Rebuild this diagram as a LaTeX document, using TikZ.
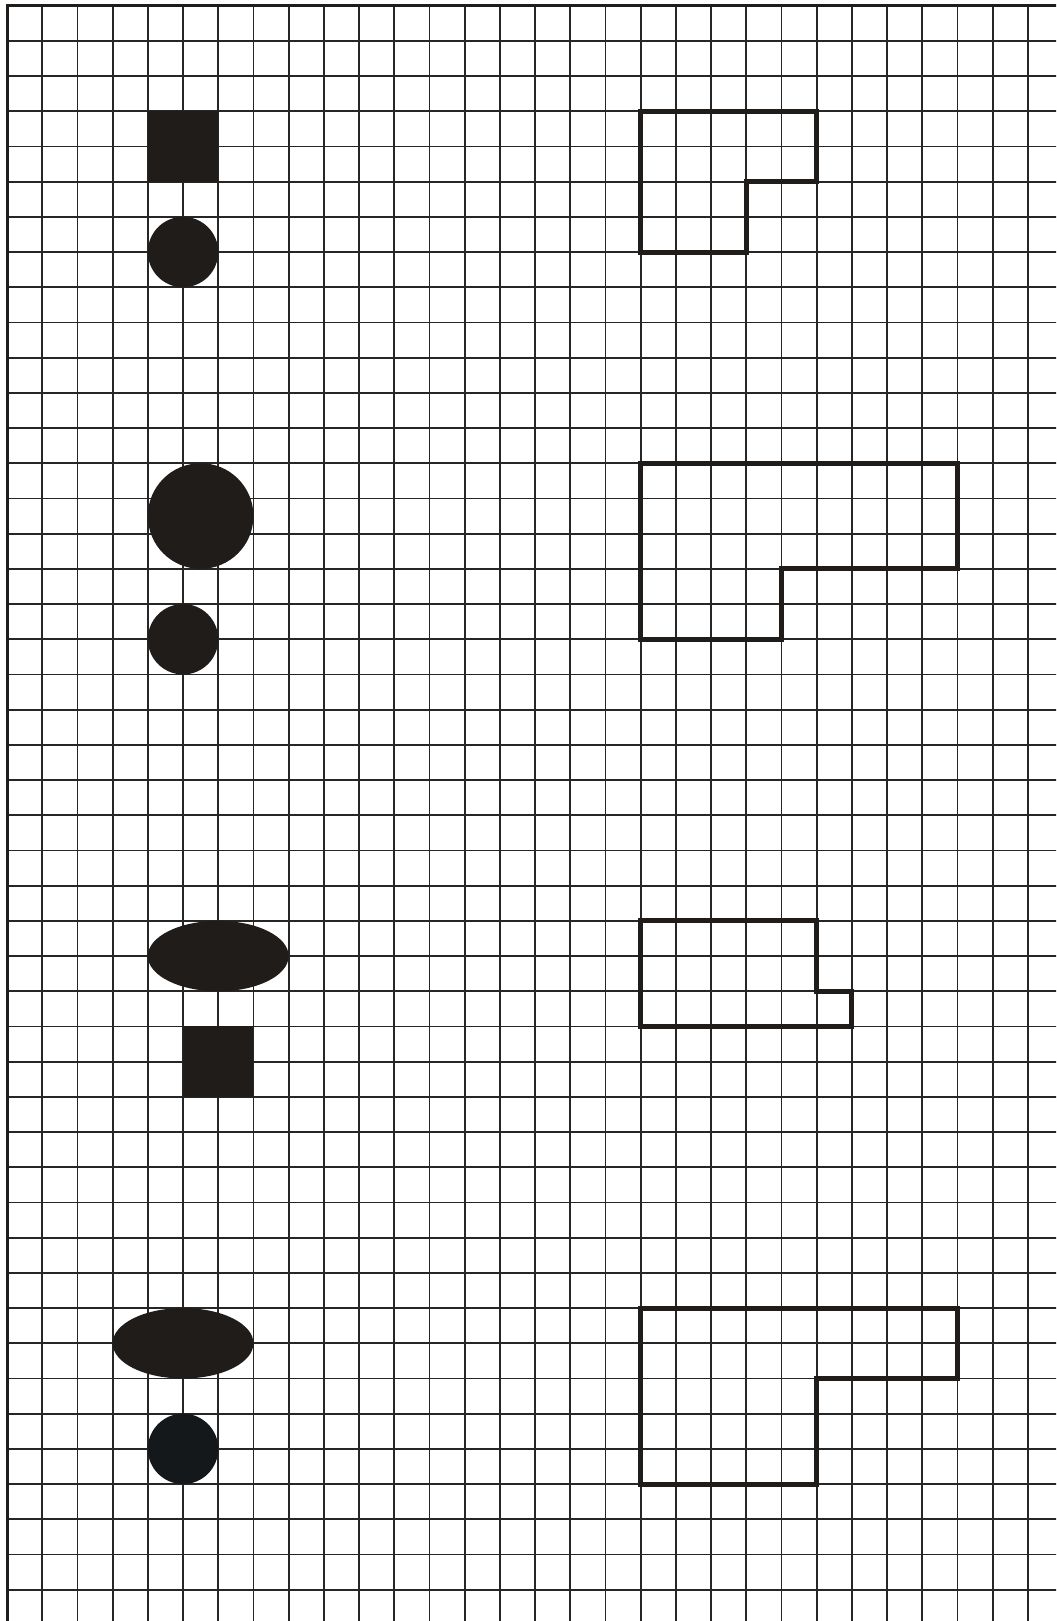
\documentclass[tikz,border=0pt]{standalone}
\definecolor{ink}{HTML}{201C1A}
\definecolor{inkb}{HTML}{15181B}
\definecolor{gridc}{HTML}{262626}
\tikzset{
  gridline/.style={draw=gridc, line width=1.5pt},
  border/.style={draw=ink, line width=2.4pt},
  outline/.style={draw=ink, line width=4pt, line join=miter},
  blob/.style={fill=ink},
}
\begin{document}
\begin{tikzpicture}
\useasboundingbox (0,0) rectangle (30,-46.05);
\fill[white] (0,0) rectangle (30,-46.05);
\begin{scope}
\clip (0,0) rectangle (30,-46.05);
\begin{scope}[shift={(0.2,-0.16)},yscale=-1]
  % grid
  \foreach \c in {1,...,29} \draw[gridline] (\c,0) -- (\c,46.5);
  \foreach \r in {1,...,45} \draw[gridline] (0,\r) -- (30.5,\r);
  \draw[border] (0,46.5) -- (0,0) -- (30.5,0);
  % left column figures
  \fill[blob] (4,3) rectangle (6,5);
  \fill[blob] (5,7) circle (1);
  \fill[blob] (5.5,14.5) circle (1.5);
  \fill[blob] (5,18) circle (1);
  \fill[blob] (6,27) ellipse (2 and 1);
  \fill[blob] (5,29) rectangle (7,31);
  \fill[blob] (5,38) ellipse (2 and 1);
  \fill[inkb] (5,41) circle (1);
  % right column outlines
  \draw[outline] (18,3) -- (23,3) -- (23,5) -- (21,5) -- (21,7) -- (18,7) -- cycle;
  \draw[outline] (18,13) -- (27,13) -- (27,16) -- (22,16) -- (22,18) -- (18,18) -- cycle;
  \draw[outline] (18,26) -- (23,26) -- (23,28) -- (24,28) -- (24,29) -- (18,29) -- cycle;
  \draw[outline] (18,37) -- (27,37) -- (27,39) -- (23,39) -- (23,42) -- (18,42) -- cycle;
\end{scope}
\end{scope}
\end{tikzpicture}
\end{document}
